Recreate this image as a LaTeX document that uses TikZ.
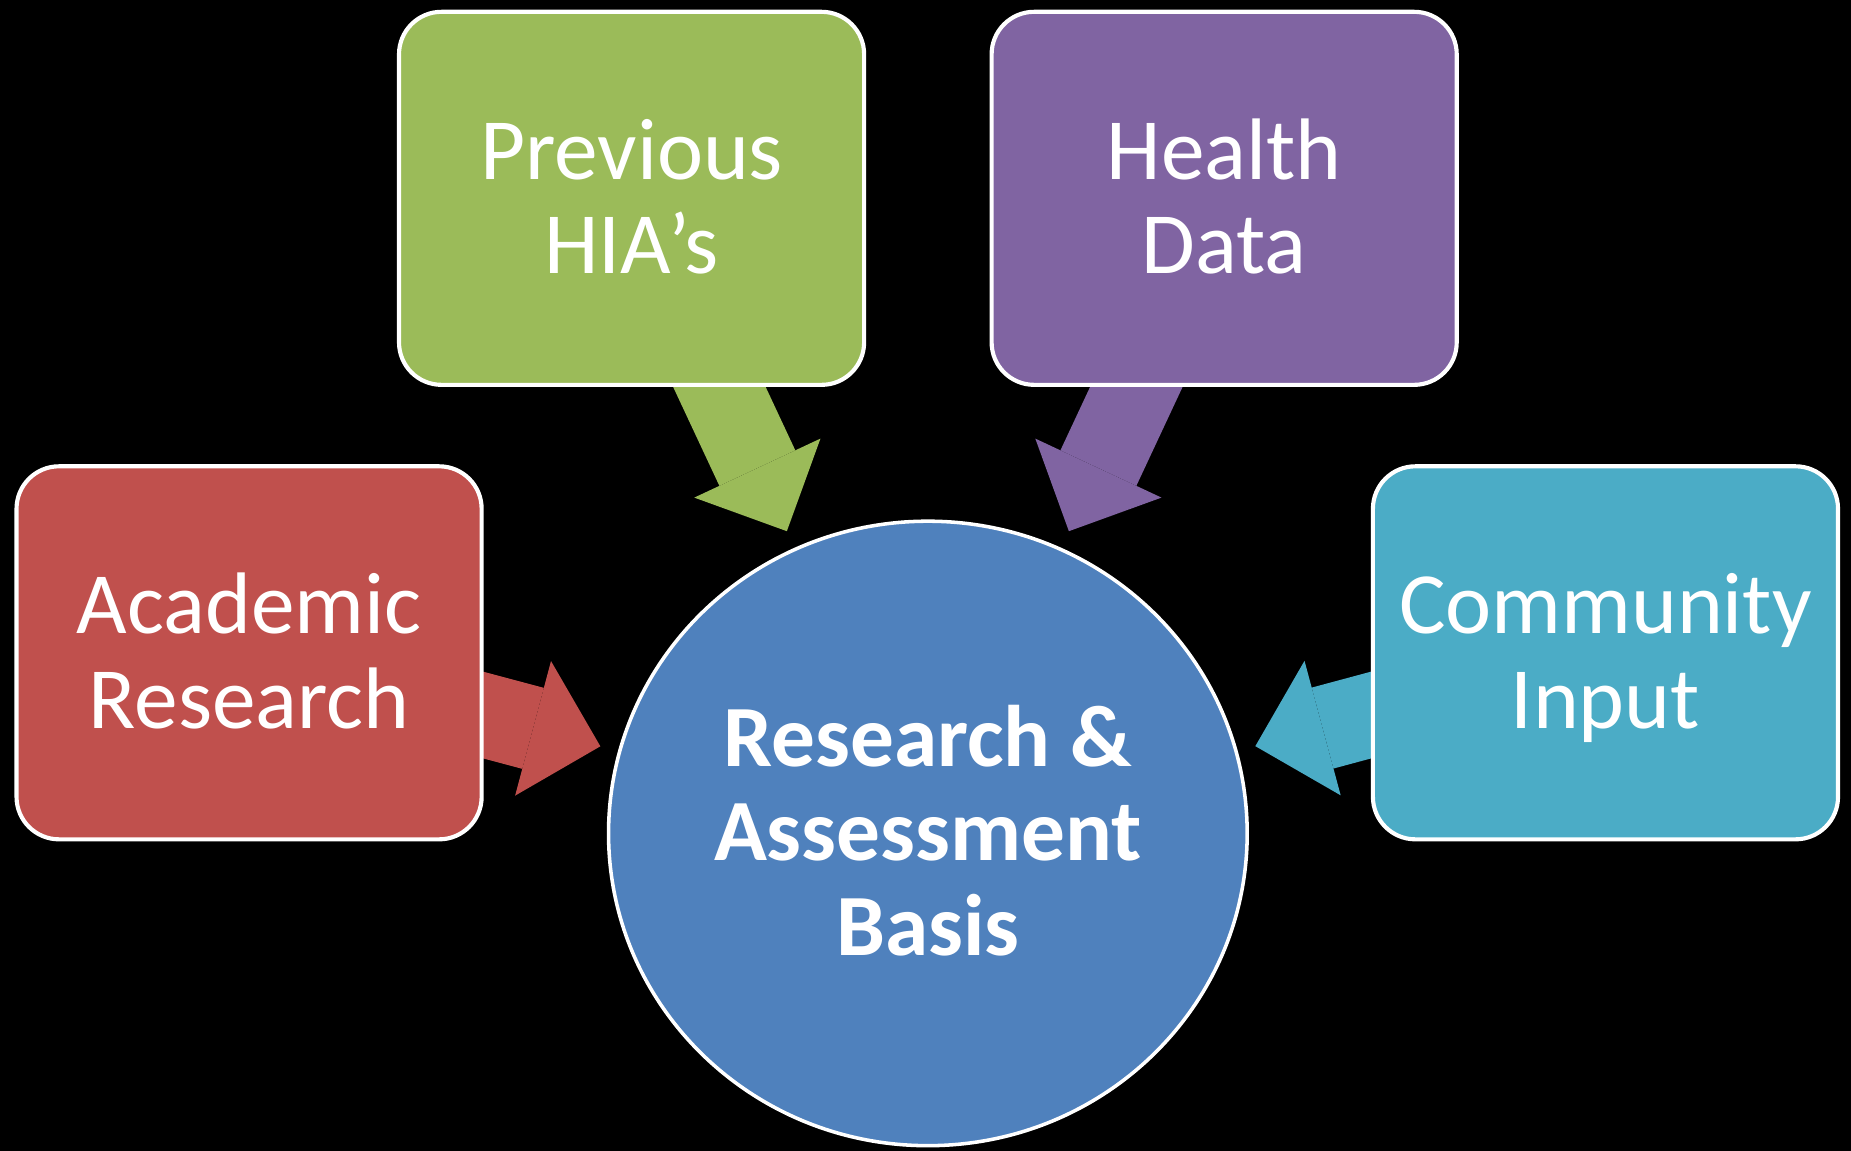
\documentclass[tikz,border=0pt]{standalone}
\usepackage{fontspec}
\setmainfont{Carlito}
\usetikzlibrary{shapes.geometric,arrows.meta}
\pgfdeclarelayer{back}
\pgfsetlayers{back,main}

\definecolor{hiared}{HTML}{C0504D}
\definecolor{hiagreen}{HTML}{9BBB59}
\definecolor{hiapurple}{HTML}{8064A2}
\definecolor{hiateal}{HTML}{4BACC6}
\definecolor{hiablue}{HTML}{4F81BD}

\tikzset{
  inbox/.style={draw=white, line width=3.5pt, rounded corners=36pt, minimum width=394pt, minimum height=316pt,
    text=white, align=center, font=\fontsize{74}{80}\selectfont, text height=128pt, text depth=0pt, inner sep=0pt},
  hub/.style={ellipse, draw=white, line width=3pt, fill=hiablue, minimum width=541pt, minimum height=529pt,
    text=white, align=center, font=\fontsize{74}{80}\selectfont\bfseries, text height=206pt, text depth=0pt,
    inner sep=0pt, outer sep=17pt},
  feeder/.style={line width=71pt, shorten <=-30pt, -{Triangle[length=59pt,width=118pt,line width=0pt]}},
}

\begin{document}
\begin{tikzpicture}[x=1pt,y=-1pt]
\useasboundingbox (0,0) rectangle (1568,975);

%% sources and basis
\node [inbox, fill=hiagreen] (previous) at (535,168) {Previous\\HIA’s}; % top left
\node [inbox, fill=hiapurple] (health) at (1037,168) {Health\\Data}; % top right
\node [inbox, fill=hiared] (academic) at (211,553) {Academic\\Research}; % left
\node [inbox, fill=hiateal] (community) at (1360,553) {Community\\Input}; % right
\node [hub] (basis) at (786,706) {Research \&\\Assessment\\Basis}; % centre circle

%% block arrows behind the boxes
\begin{pgfonlayer}{back}
\fill [black] (0,0) rectangle (1568,975); % background
\draw [feeder, hiagreen] (previous) -- (basis);
\draw [feeder, hiapurple] (health) -- (basis);
\draw [feeder, hiared] (academic) -- (basis);
\draw [feeder, hiateal] (community) -- (basis);
\end{pgfonlayer}

\end{tikzpicture}
\end{document}
